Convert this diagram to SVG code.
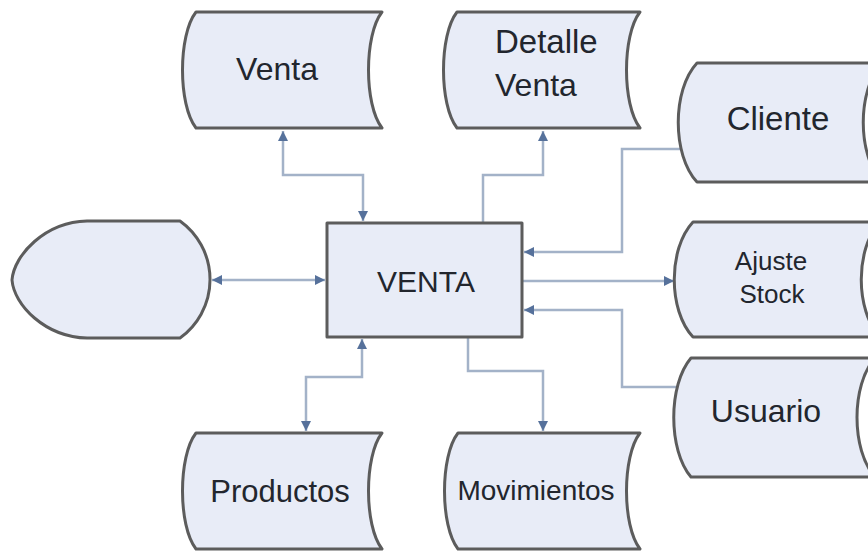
<svg xmlns="http://www.w3.org/2000/svg" width="868" height="552" viewBox="0 0 868 552">
<defs>
<style>
.shape{fill:#e8ecf7;stroke:#5c5c5c;stroke-width:3;stroke-linejoin:round}
.lbl{font-family:"Liberation Sans",Arial,sans-serif;fill:#22262e;text-anchor:middle}
.conn{fill:none;stroke:#a3b2c8;stroke-width:2.5}
</style>
<marker id="arr" viewBox="0 0 10 10" refX="10" refY="5" markerWidth="11" markerHeight="10" markerUnits="userSpaceOnUse" orient="auto-start-reverse">
<path d="M0,0 L10,5 L0,10 z" fill="#56719b"/>
</marker>
</defs>
<rect width="868" height="552" fill="#ffffff"/>

<g id="connectors">
<path class="conn" d="M283,131 V175 H363 V221" marker-start="url(#arr)" marker-end="url(#arr)"/>
<path class="conn" d="M483,222 V175 H543 V131" marker-end="url(#arr)"/>
<path class="conn" d="M680,149 H622 V252 H524" marker-end="url(#arr)"/>
<path class="conn" d="M523,281 H674" marker-end="url(#arr)"/>
<path class="conn" d="M676,387 H622 V310 H524" marker-end="url(#arr)"/>
<path class="conn" d="M362,339 V377 H306 V431" marker-start="url(#arr)" marker-end="url(#arr)"/>
<path class="conn" d="M468,338 V371 H543 V431" marker-end="url(#arr)"/>
<path class="conn" d="M212,280 H325" marker-start="url(#arr)" marker-end="url(#arr)"/>
</g>

<g id="display">
<path class="shape" d="M87,221 H180 A72,72 0 0 1 180,338 H87 C45,337 14,305 12,280 C14,255 45,222 87,221 Z"/>
</g>

<g id="venta-proc">
<rect class="shape" x="327" y="223" width="195" height="114"/>
<text class="lbl" x="426" y="292" font-size="30">VENTA</text>
</g>

<g id="venta">
<path class="shape" d="M196,12 H382 C364,35 364,105 382,128 H196 C178,105 178,35 196,12 Z"/>
<text class="lbl" x="277" y="80" font-size="32">Venta</text>
</g>

<g id="detalle-venta">
<path class="shape" d="M457,12 H640 C622,35 622,105 640,128 H457 C439,105 439,35 457,12 Z"/>
<text class="lbl" x="495" y="53" font-size="33" style="text-anchor:start">Detalle</text>
<text class="lbl" x="495" y="96" font-size="32" style="text-anchor:start">Venta</text>
</g>

<g id="cliente">
<path class="shape" d="M697,63 H882 C857,90 857,155 882,182 H697 C672,155 672,90 697,63 Z"/>
<text class="lbl" x="778" y="130" font-size="33">Cliente</text>
</g>

<g id="ajuste-stock">
<path class="shape" d="M693,222 H880 C855,249 855,310 880,337 H693 C668,310 668,249 693,222 Z"/>
<text class="lbl" x="771" y="270" font-size="26">Ajuste</text>
<text class="lbl" x="772" y="303" font-size="26">Stock</text>
</g>

<g id="usuario">
<path class="shape" d="M691,358 H875 C851,385 851,450 875,477 H691 C668,450 668,385 691,358 Z"/>
<text class="lbl" x="766" y="422" font-size="32">Usuario</text>
</g>

<g id="productos">
<path class="shape" d="M196,433 H382 C364,456 364,526 382,549 H196 C178,526 178,456 196,433 Z"/>
<text class="lbl" x="280" y="502" font-size="31">Productos</text>
</g>

<g id="movimientos">
<path class="shape" d="M458,433 H640 C622,456 622,526 640,549 H458 C440,526 440,456 458,433 Z"/>
<text class="lbl" x="536" y="500" font-size="28">Movimientos</text>
</g>
</svg>
